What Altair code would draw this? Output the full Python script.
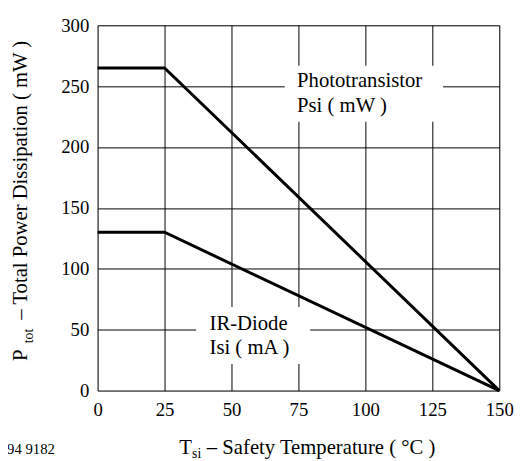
import altair as alt
import pandas as pd

temp = [0, 25, 150]
photo = [265, 265, 0]
ir = [130, 130, 0]
x_ticks = [0, 25, 50, 75, 100, 125, 150]
y_ticks = [0, 50, 100, 150, 200, 250, 300]

FONT = "Liberation Serif"

df = pd.DataFrame({"t": temp * 2, "p": photo + ir,
                   "s": ["photo"] * 3 + ["ir"] * 3})
one = pd.DataFrame({"k": [0]})

xs = alt.Scale(domain=[0, 150], nice=False, zero=False)
ys = alt.Scale(domain=[0, 300], nice=False, zero=False)

xax = alt.Axis(values=x_ticks, title=None, grid=True, gridColor="black",
               gridWidth=1, gridOpacity=1, domain=False, ticks=False,
               labelFont=FONT, labelFontSize=19, labelColor="black",
               labelPadding=10, labelFlush=False)
yax = alt.Axis(values=y_ticks, title=None, grid=True, gridColor="black",
               gridWidth=1, gridOpacity=1, domain=False, ticks=False,
               labelFont=FONT, labelFontSize=19, labelColor="black",
               labelPadding=9, labelBaseline="middle")

base = alt.Chart(one)

lines = alt.Chart(df).mark_line(color="black", strokeWidth=3, strokeJoin="miter").encode(
    x=alt.X("t:Q", scale=xs, axis=xax),
    y=alt.Y("p:Q", scale=ys, axis=yax),
    detail="s:N",
)

def box(x1, x2, y1, y2):
    return base.mark_rect(color="white").encode(
        x=alt.datum(x1, scale=xs), x2=alt.datum(x2),
        y=alt.datum(y1, scale=ys), y2=alt.datum(y2))

def lab(txt, x, y, size=21):
    return base.mark_text(text=txt, font=FONT, fontSize=size, align="left",
                          baseline="alphabetic", color="black").encode(
        x=alt.datum(x, scale=xs), y=alt.datum(y, scale=ys))

def ptxt(txt, x, y, size=21, angle=0):
    kw = dict(text=txt, font=FONT, fontSize=size, align="left",
              baseline="alphabetic", color="black")
    if angle:
        kw["angle"] = angle
    return base.mark_text(**kw).encode(x=alt.value(x), y=alt.value(y))

layers = [
    box(69.9, 129, 266.8, 220.8),
    box(36.8, 79.4, 68.7, 21.8),
    lines,
    lab("Phototransistor", 74.5, 249),
    lab("Psi ( mW )", 74.5, 229),
    lab("IR-Diode", 41.8, 49.6),
    lab("Isi ( mA )", 41.8, 29.9),
    # y title
    ptxt("P", -72, 341, 21, 270),
    ptxt("tot", -66, 323, 14, 270),
    ptxt("– Total Power Dissipation ( mW )", -72, 299, 21, 270),
    # x title
    ptxt("T", 83, 435, 21),
    ptxt("si", 96, 439, 14),
    ptxt("– Safety Temperature ( °C )", 111, 435, 21),
    ptxt("94 9182", -92, 435, 15),
]

chart = alt.layer(*layers).properties(
    width=408, height=371,
    autosize=alt.AutoSizeParams(type="none"),
    padding={"left": 91, "top": 14, "right": 18, "bottom": 70},
).configure_view(stroke="black", strokeWidth=3).configure(
    background="white", font=FONT
).configure_axis(labelFont=FONT).configure_text(font=FONT)

chart.save("out.html", embed_options={"renderer": "svg", "actions": False})
